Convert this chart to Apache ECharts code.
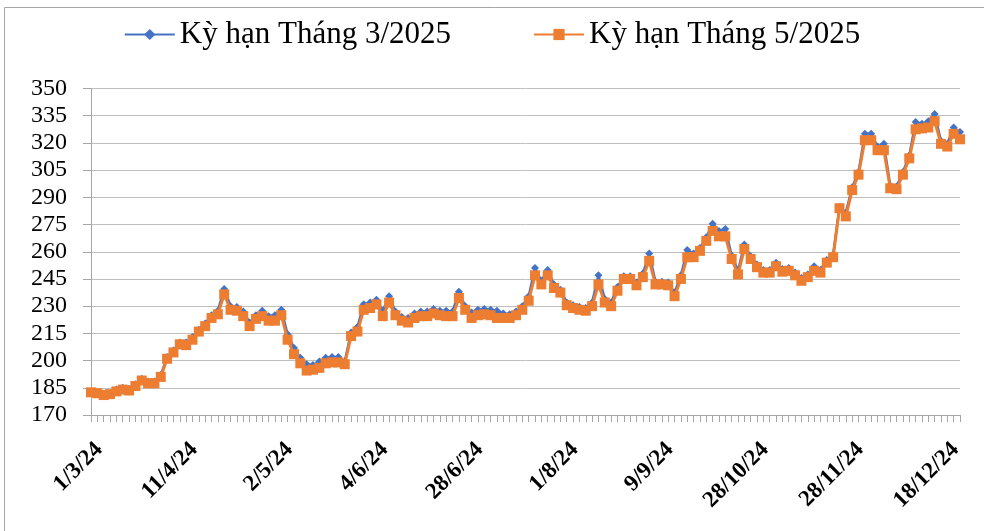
<!DOCTYPE html>
<html>
<head>
<meta charset="utf-8">
<script src="https://cdn.jsdelivr.net/npm/echarts@6/dist/echarts.min.js"></script>
<style>
html,body{margin:0;padding:0;background:#fff;}
#chart{width:984px;height:531px;}
</style>
</head>
<body>
<div id="chart"></div>
<script>
// Tick labels shown every 15th category
const tickLabels = ['1/3/24','11/4/24','2/5/24','4/6/24','28/6/24','1/8/24','9/9/24','28/10/24','28/11/24','18/12/24'];
const labelStep = 15;

// Kỳ hạn Tháng 3/2025
const seriesMar = [
183,182.5,181.5,182,184,185,184.5,187,190,188.5,
188.5,192,202,205.5,210,210,213,217,220.5,225,
227.5,239.5,230,229.5,227,221,225,227.5,224.5,225,
228,214.5,207,201.5,198,197.5,199.5,201.5,202,202,
199.5,215.5,218.5,231,232,233.5,227.5,235.5,227,224,
223.5,226,227,227,228.5,227.5,227.5,227,238,230,
226.5,228,228.5,228,227.5,226,225.5,227,230,235.5,
251,244,250,242,239,232,230.5,229.5,229,232,
247,234,232,240.5,246.5,246.5,243,248,259,243.5,
243.5,243,237.5,247,261,259,262,268,275.5,271.5,
272.5,258,249.5,264,257.5,253,250,250,254,250.5,
251,248.5,245.5,247.5,252,250,255.5,258.5,284.5,281.5,
295.5,304,325,325,318,319.5,296.5,296,304,313,
331.5,330.5,332,336,321,319.5,328.5,326
];

// Kỳ hạn Tháng 5/2025
const seriesMay = [
182.5,182,181,181.5,183,184,183.5,186,189,187.5,
187.5,191,201,204.5,209,208.5,211.5,216,219,223.5,
225.5,236.5,228,227.5,224.5,219,223,224.5,222,222,
225,211.5,203.5,198.5,194.5,195,196,198.5,199,199,
198,213.5,216,228,229,231,224.5,232,225,222,
221,223.5,224.5,224.5,226,225,224.5,224.5,234.5,228,
223.5,225,225.5,225,223.5,223.5,223.5,225,228,233,
247,242,247,240,237.5,230.5,229,228,227.5,230,
242,232,230,238.5,245,245,241.5,246,255,242,
242,241.5,235.5,245,257,257,260.5,266,271.5,268.5,
268.5,256,247.5,261.5,256,251.5,248.5,248.5,252,249,
249.5,247,244,246,249.5,248.5,254,257,284,279.5,
294,302.5,321.5,321.5,316,316,295,294.5,302.5,311.5,
327.5,328,328.5,332,319.5,318,325,322
];

const seriesNames = ['Kỳ hạn Tháng 3/2025','Kỳ hạn Tháng 5/2025'];

// categories: one per data point, labelled every 15th
const categories = seriesMay.map((_, i) => (i % labelStep === 0 && tickLabels[i / labelStep]) ? tickLabels[i / labelStep] : '');

const chart = echarts.init(document.getElementById('chart'), null, {renderer:'canvas'});
chart.setOption({
  animation:false,
  backgroundColor:'#fff',
  graphic:[{
    type:'rect', shape:{x:4.5,y:7.5,width:1000,height:600},
    style:{fill:'none',stroke:'#A6A6A6',lineWidth:1}, silent:true, z:-1
  }],
  legend:{
    top:14, left:'center',
    itemWidth:50, itemHeight:14, itemGap:82,
    textStyle:{fontFamily:'Liberation Serif', fontSize:31, color:'#000'},
    data:seriesNames
  },
  grid:{left:91, right:24, top:88.5, bottom:116, containLabel:false},
  xAxis:{
    type:'category', data:categories, boundaryGap:false,
    axisLine:{lineStyle:{color:'#A6A6A6',width:1}},
    axisTick:{show:true, interval:0, length:7, lineStyle:{color:'#A6A6A6'}},
    axisLabel:{interval:labelStep-1, rotate:45, margin:23, verticalAlign:'top', color:'#000',
      fontFamily:'Liberation Serif', fontSize:23, fontWeight:'bold'},
    splitLine:{show:false}
  },
  yAxis:{
    type:'value', min:170, max:350, interval:15,
    axisLine:{show:true, lineStyle:{color:'#A6A6A6',width:1}},
    axisTick:{show:true, length:8, lineStyle:{color:'#A6A6A6'}},
    axisLabel:{margin:24, color:'#000', fontFamily:'Liberation Serif', fontSize:24},
    splitLine:{lineStyle:{color:'#BFBFBF',width:1}}
  },
  series:[
    {name:seriesNames[0], type:'line', data:seriesMar,
     symbol:'diamond', symbolSize:8, showAllSymbol:true,
     lineStyle:{color:'#4472C4',width:2.5},
     itemStyle:{color:'#4472C4'}, z:2},
    {name:seriesNames[1], type:'line', data:seriesMay,
     symbol:'rect', symbolSize:10, showAllSymbol:true,
     lineStyle:{color:'#ED7D31',width:3},
     itemStyle:{color:'#ED7D31'}, z:3}
  ]
});
</script>
</body>
</html>
